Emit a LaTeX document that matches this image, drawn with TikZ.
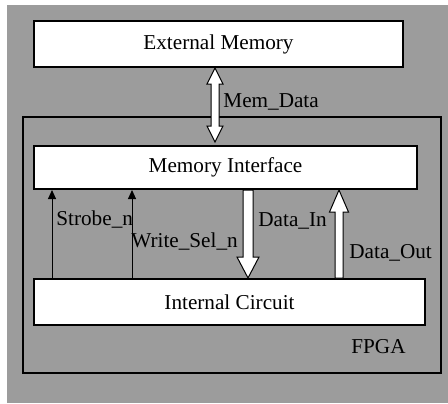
\documentclass[tikz,border=0pt]{standalone}
\usepackage{fontspec}
\setmainfont{Liberation Serif}
\usetikzlibrary{arrows.meta,calc}

\definecolor{bggray}{RGB}{156,156,156}

\tikzset{
  block/.style={draw, fill=white, line width=1pt, inner sep=0pt},
  fatbody/.style={draw, fill=white, line width=0.5pt, line join=miter},
  sig/.style={line width=0.5pt, -{Triangle[length=4.5pt,width=4pt]}},
  lbl/.style={anchor=base west, inner sep=0pt}
}

% hollow arrow: from, to, shaft half width, head half width, head length
\newcommand{\fatarrow}[5]{%
  \path ($(#2)!#5!(#1)$) coordinate (fa);
  \draw[fatbody] ($(#1)!#3!90:(#2)$) -- ($(fa)!#3!90:(#2)$) -- ($(fa)!#4!90:(#2)$) -- (#2)
    -- ($(fa)!#4!-90:(#2)$) -- ($(fa)!#3!-90:(#2)$) -- ($(#1)!#3!-90:(#2)$) -- cycle;}
% same with a head at both ends
\newcommand{\fatdarrow}[5]{%
  \path ($(#1)!#5!(#2)$) coordinate (fa1) ($(#2)!#5!(#1)$) coordinate (fa2);
  \draw[fatbody] (#1) -- ($(fa1)!#4!90:(#2)$) -- ($(fa1)!#3!90:(#2)$) -- ($(fa2)!#3!-90:(#1)$)
    -- ($(fa2)!#4!-90:(#1)$) -- (#2) -- ($(fa2)!#4!90:(#1)$) -- ($(fa2)!#3!90:(#1)$)
    -- ($(fa1)!#3!-90:(#2)$) -- ($(fa1)!#4!-90:(#2)$) -- cycle;}

\begin{document}
\begin{tikzpicture}[x=0.5pt, y=-0.5pt, font=\fontsize{10.6}{12}\selectfont]
    \useasboundingbox (0,0) rectangle (448,403);
    \fill [bggray] (7,5) rectangle (448,403);

    \node [block, minimum width=184.5pt, minimum height=23pt] (ext) at (218.5,44) {External Memory};
    \node [draw, line width=1pt, minimum width=209pt, minimum height=128pt] (fpga) at (232,244.5) {};
    \node [block, minimum width=191.5pt, minimum height=21.5pt] (mif) at (225.5,167.5) {Memory Interface};
    \node [block, minimum width=195.5pt, minimum height=23pt] (ic) at (229.5,302) {Internal Circuit};

    \coordinate (md) at (215,0);
    \coordinate (din) at (248,0);
    \coordinate (dout) at (339,0);
    \coordinate (stb) at (52,0);
    \coordinate (wsel) at (132,0);

    \coordinate (mdA) at (ext.south -| md);
    \coordinate (mdB) at ($(mif.north -| md)+(0,-3)$);
    \fatdarrow{mdA}{mdB}{2pt}{4pt}{8pt}

    \coordinate (dinA) at (mif.south -| din);
    \coordinate (dinB) at (ic.north -| din);
    \fatarrow{dinA}{dinB}{2.5pt}{5.5pt}{10.5pt}

    \coordinate (doutA) at (ic.north -| dout);
    \coordinate (doutB) at (mif.south -| dout);
    \fatarrow{doutA}{doutB}{2pt}{4.75pt}{11pt}

    \draw [sig] (ic.north -| stb) -- (mif.south -| stb);
    \draw [sig] (ic.north -| wsel) -- (mif.south -| wsel);

    \node [lbl] at (223,107) {Mem\_Data};
    \node [lbl] at (56,225) {Strobe\_n};
    \node [lbl] at (131,247) {Write\_Sel\_n};
    \node [lbl] at (258,226) {Data\_In};
    \node [lbl] at (349,258) {Data\_Out};
    \node [lbl] at (351,353) {FPGA};
\end{tikzpicture}
\end{document}
